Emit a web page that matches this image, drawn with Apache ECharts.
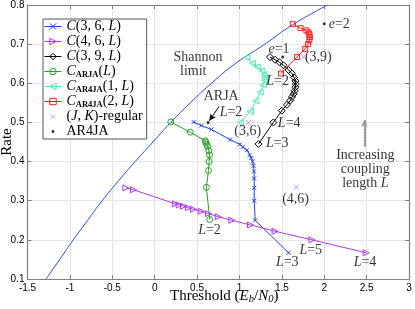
<!DOCTYPE html>
<html><head><meta charset="utf-8">
<script src="https://cdn.jsdelivr.net/npm/echarts@6/dist/echarts.min.js"></script>
<style>html,body{margin:0;padding:0;background:#fff}#c{width:415px;height:309px}</style>
</head><body><div id="c"></div>
<script>
// ---- data (threshold Eb/N0 in dB, rate) ----
const shannonThr  = [-1.28,-1.12,-0.96,-0.79,-0.62,-0.43,-0.23,-0.02,0.19,0.42,0.67,0.95,1.30,1.63,2.04];
const shannonRate = [0.10,0.15,0.20,0.25,0.30,0.35,0.40,0.45,0.50,0.55,0.60,0.65,0.70,0.75,0.80];

const c36Thr  = [1.58,1.186,1.174,1.174,1.174,1.172,1.166,1.155,1.14,1.12,1.09,1.04,1.005,0.89,0.67,0.55,0.46];
const c36Rate = [0.167,0.25,0.30,0.333,0.357,0.375,0.389,0.40,0.409,0.417,0.429,0.4375,0.444,0.456,0.482,0.492,0.501];

const c46Thr  = [2.495,1.855,1.42,1.13,0.91,0.75,0.635,0.55,0.457,0.40,0.34,0.29,0.244,-0.25,-0.34];
const c46Rate = [0.167,0.20,0.222,0.238,0.25,0.259,0.267,0.273,0.278,0.282,0.286,0.289,0.292,0.328,0.333];

const c39Thr  = [1.225,1.40,1.50,1.56,1.60,1.62,1.64,1.65,1.66,1.665,1.66,1.645,1.62,1.58,1.52,1.47,1.42,1.36];
const c39Rate = [0.445,0.50,0.530,0.545,0.556,0.565,0.573,0.581,0.590,0.598,0.606,0.615,0.625,0.634,0.646,0.654,0.660,0.667];

const arjaThr  = [0.65,0.61,0.635,0.643,0.647,0.639,0.625,0.612,0.604,0.596,0.42,0.19];
const arjaRate = [0.252,0.334,0.377,0.40,0.417,0.428,0.438,0.444,0.449,0.453,0.475,0.501];

const ar4ja1Thr  = [1.01,1.13,1.195,1.245,1.28,1.295,1.30,1.29,1.265,1.21,1.155,1.09];
const ar4ja1Rate = [0.50,0.528,0.555,0.577,0.596,0.608,0.615,0.622,0.632,0.642,0.651,0.666];

const ar4ja2Thr  = [1.49,1.68,1.775,1.81,1.825,1.83,1.825,1.815,1.79,1.72,1.63];
const ar4ja2Rate = [0.625,0.667,0.688,0.70,0.71,0.718,0.725,0.73,0.735,0.741,0.751];

const regThr  = [1.107,1.67,1.757];
const regRate = [0.50,0.334,0.667];

const ar4jaThr  = [0.63,1.51,2.0];
const ar4jaRate = [0.50,0.667,0.752];

const xTicks = {min:-1.5, max:3, step:0.5};
const yTicks = {min:0.1, max:0.8, step:0.1};

// annotations: [threshold, rate, text]
const notes = [
  [0.51,0.667,'{n|Shannon}'],
  [0.455,0.631,'{n|limit}'],
  [0.785,0.566,'{n|ARJA}'],
  [0.90,0.527,'{i|L}{n|=2}'],
  [1.097,0.477,'{n|(3,6)}'],
  [1.467,0.688,'{i|e}{n|=1}'],
  [2.178,0.750,'{i|e}{n|=2}'],
  [1.93,0.666,'{n|(3,9)}'],
  [1.45,0.604,'{i|L}{n|=2}'],
  [1.587,0.498,'{i|L}{n|=4}'],
  [1.446,0.446,'{i|L}{n|=3}'],
  [2.485,0.417,'{n|Increasing}'],
  [2.485,0.381,'{n|coupling}'],
  [2.485,0.345,'{n|length }{i|L}'],
  [1.662,0.304,'{n|(4,6)}'],
  [1.841,0.173,'{i|L}{n|=5}'],
  [1.564,0.143,'{i|L}{n|=3}'],
  [2.481,0.143,'{i|L}{n|=4}'],
  [0.647,0.224,'{i|L}{n|=2}']
];
const arrowBlack = [[0.76,0.541],[0.645,0.504]];
const arrowGray  = [[2.473,0.438],[2.473,0.506]];

const zip = (a,b) => a.map((v,i)=>[v,b[i]]);
const serif = 'Liberation Serif';
const SYM_X = 'path://M0,0L10,10M10,0L0,10';
const SYM_R = 'path://M0,0L10,5L0,10Z';
const SYM_L = 'path://M10,0L0,5L10,10Z';

const colors = {s36:'#1f3ff0', s46:'#b038f2', s39:'#000000', arja:'#28a028', ar4ja1:'#45efb0', ar4ja2:'#ff1a1a', reg:'#b57cf0', ar4ja:'#000000'};

function lineSeries(name, data, symbol, size) {
  const color = colors[name];
  return {
    name, type:'line', data, symbol, symbolSize:size, showAllSymbol:true,
    lineStyle:{color, width:1}, itemStyle:{color:'transparent', borderColor:color, borderWidth:1},
    emphasis:{disabled:true}, animation:false, z:3
  };
}
function legItem(name, extra) {
  return Object.assign({name, itemStyle:{color:'transparent', borderColor:colors[name], borderWidth:1},
    lineStyle:{color:colors[name], width:1}}, extra || {});
}

const LF = 14;
const richLegend = {
  n:{fontFamily:serif, fontSize:LF, lineHeight:15, color:'#000', verticalAlign:'middle'},
  c:{fontFamily:serif, fontSize:LF, lineHeight:15, fontStyle:'italic', color:'#000', verticalAlign:'middle'},
  i:{fontFamily:serif, fontSize:LF, lineHeight:15, fontStyle:'italic', color:'#000', verticalAlign:'middle'},
  s:{fontFamily:serif, fontSize:8.5, lineHeight:8, fontWeight:'bold', color:'#000', verticalAlign:'bottom'}
};
const legendText = {
  s36:'{c|C}{n|(3, 6, }{i|L}{n|)}',
  s46:'{c|C}{n|(4, 6, }{i|L}{n|)}',
  s39:'{c|C}{n|(3, 9, }{i|L}{n|)}',
  arja:'{c|C}{s|ARJA}{n|(}{i|L}{n|)}',
  ar4ja1:'{c|C}{s|AR4JA}{n|(1, }{i|L}{n|)}',
  ar4ja2:'{c|C}{s|AR4JA}{n|(2, }{i|L}{n|)}',
  reg:'{n|(}{i|J}{n|, }{i|K}{n|)-regular}',
  ar4ja:'{n|AR4JA}'
};

const axisCol = '#808080';
const chart = echarts.init(document.getElementById('c'), null, {renderer:'canvas'});
chart.setOption({
  animation:false,
  grid:{left:27.5, right:6, top:5, bottom:30, containLabel:false, outerBoundsMode:'none'},
  xAxis:[{
    type:'value', min:xTicks.min, max:xTicks.max, interval:xTicks.step, position:'bottom',
    axisLine:{show:true, onZero:false, lineStyle:{color:axisCol, width:1.2}},
    axisTick:{show:true, inside:true, length:4, lineStyle:{color:axisCol}},
    axisLabel:{color:'#000', fontSize:10, fontFamily:'Liberation Sans', margin:4},
    splitLine:{show:true, lineStyle:{color:'#cfcfcf', type:'dotted', width:1}},
    name:'{n|Threshold (}{i|E}{s|b}{n|/}{i|N}{s|0}{n|)}', nameLocation:'middle', nameGap:9,
    nameMoveOverlap:false,
    nameTextStyle:{padding:[0,0,0,12], rich:{
      n:{fontFamily:serif, fontSize:15, lineHeight:17, color:'#000'},
      i:{fontFamily:serif, fontSize:15, lineHeight:17, fontStyle:'italic', color:'#000'},
      s:{fontFamily:serif, fontSize:10.5, lineHeight:11, fontStyle:'italic', color:'#000', verticalAlign:'bottom'}
    }}
  },{
    type:'value', min:xTicks.min, max:xTicks.max, interval:xTicks.step, position:'top',
    axisLine:{show:true, onZero:false, lineStyle:{color:axisCol, width:1.2}},
    axisTick:{show:true, inside:true, length:4, lineStyle:{color:axisCol}},
    axisLabel:{show:false}, splitLine:{show:false}
  }],
  yAxis:[{
    type:'value', min:yTicks.min, max:yTicks.max, interval:yTicks.step, position:'left',
    axisLine:{show:true, onZero:false, lineStyle:{color:axisCol, width:1.2}},
    axisTick:{show:true, inside:true, length:4, lineStyle:{color:axisCol}},
    axisLabel:{color:'#000', fontSize:10, fontFamily:'Liberation Sans', margin:3},
    splitLine:{show:true, lineStyle:{color:'#cfcfcf', type:'dotted', width:1}},
    name:'Rate', nameLocation:'middle', nameGap:13, nameRotate:90, nameMoveOverlap:false,
    nameTextStyle:{fontFamily:serif, fontSize:15, color:'#000'}
  },{
    type:'value', min:yTicks.min, max:yTicks.max, interval:yTicks.step, position:'right',
    axisLine:{show:true, onZero:false, lineStyle:{color:axisCol, width:1.2}},
    axisTick:{show:true, inside:true, length:4, lineStyle:{color:axisCol}},
    axisLabel:{show:false}, splitLine:{show:false}
  }],
  legend:{
    data:[legItem('s36'),legItem('s46'),legItem('s39'),legItem('arja'),legItem('ar4ja1'),legItem('ar4ja2'),
      legItem('reg', {icon:'path://M0,0M10,10M2.5,2.5L7.5,7.5M7.5,2.5L2.5,7.5'}),
      {name:'ar4ja', icon:'path://M0,0M10,10M4,4L6,4L6,6L4,6Z', itemStyle:{color:'#000', borderColor:'#000', borderWidth:1}}],
    orient:'vertical', left:43, top:19, itemWidth:17, itemHeight:8, itemGap:0,
    padding:[0,4,0,1], borderColor:'#555', borderWidth:1, backgroundColor:'#fff',
    selectedMode:false, formatter:(name)=>legendText[name],
    textStyle:{fontFamily:serif, fontSize:LF, lineHeight:15, rich:richLegend}
  },
  series:[
    {name:'shannon', type:'line', data:zip(shannonThr, shannonRate), symbol:'none', smooth:true,
     lineStyle:{color:'#2a4cf0', width:1}, animation:false, z:2},
    lineSeries('s36', zip(c36Thr,c36Rate), SYM_X, 4),
    lineSeries('s46', zip(c46Thr,c46Rate), SYM_R, 6),
    lineSeries('s39', zip(c39Thr,c39Rate), 'diamond', 7),
    lineSeries('arja', zip(arjaThr,arjaRate), 'circle', 6),
    lineSeries('ar4ja1', zip(ar4ja1Thr,ar4ja1Rate), SYM_L, 6),
    lineSeries('ar4ja2', zip(ar4ja2Thr,ar4ja2Rate), 'rect', 5),
    {name:'reg', type:'scatter', data:zip(regThr,regRate), symbol:SYM_X, symbolSize:5,
     itemStyle:{color:'transparent', borderColor:colors.reg, borderWidth:1}, z:4},
    {name:'ar4ja', type:'scatter', data:zip(ar4jaThr,ar4jaRate), symbol:'circle', symbolSize:3,
     itemStyle:{color:'#000'}, z:4},
    {name:'notes', type:'scatter', symbolSize:0, silent:true, z:5,
     data:notes.map(n=>({value:[n[0],n[1]], label:{formatter:n[2]}})),
     itemStyle:{color:'transparent'},
     label:{show:true, position:'inside', align:'center', verticalAlign:'middle',
       rich:{
         n:{fontFamily:serif, fontSize:14, color:'#000'},
         i:{fontFamily:serif, fontSize:14, fontStyle:'italic', color:'#000'}
       }},
     markLine:{silent:true, symbol:['none','arrow'], symbolSize:[5,7], label:{show:false},
       animation:false,
       data:[
         [{coord:arrowBlack[0], lineStyle:{color:'#000', width:1, type:'solid'}},{coord:arrowBlack[1]}],
         [{coord:arrowGray[0], lineStyle:{color:'#9a9a9a', width:2, type:'solid'}},{coord:arrowGray[1]}]
       ]}
    }
  ]
});
</script></body></html>
